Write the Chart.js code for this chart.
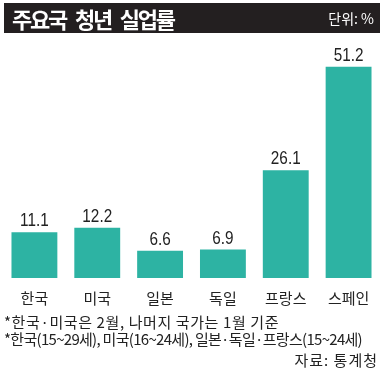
<!DOCTYPE html>
<html>
<head>
<meta charset="utf-8">
<script src="https://cdn.jsdelivr.net/npm/chart.js@4/dist/chart.umd.min.js"></script>
<style>
  body { margin: 0; background: #fff; }
  #wrap { position: relative; width: 383px; height: 377px; overflow: hidden; font-family: "Noto Sans CJK KR", sans-serif; }
  #chart { position: absolute; left: 0; top: 0; }
  .titlebar { position: absolute; left: 4px; top: 3px; width: 376px; height: 30px; background: #231f20; color: #fff; }
  .titlebar .t { position: absolute; left: 8px; top: 0; line-height: 30px; font-size: 22px; font-weight: 700; letter-spacing: -2.2px; word-spacing: 6px; }
  .titlebar .u { position: absolute; right: 6px; top: 0; line-height: 30px; font-size: 14px; }
  .note { position: absolute; left: 4px; font-size: 15px; color: #222; white-space: nowrap; line-height: 16px; }
  .src { position: absolute; right: 5px; top: 352px; font-size: 15px; color: #222; line-height: 16px; letter-spacing: 1px; }
</style>
</head>
<body>
<div id="wrap">
  <canvas id="chart" width="383" height="377"></canvas>
  <div class="titlebar"><span class="t">주요국 청년 실업률</span><span class="u">단위: %</span></div>
  <div class="note" style="top:314px; letter-spacing:0.6px">*한국·미국은 2월, 나머지 국가는 1월 기준</div>
  <div class="note" style="top:331px; letter-spacing:-0.7px">*한국(15~29세), 미국(16~24세), 일본·독일·프랑스(15~24세)</div>
  <div class="src">자료: 통계청</div>
</div>
<script>
const categories = ['한국', '미국', '일본', '독일', '프랑스', '스페인'];
const rates = [11.1, 12.2, 6.6, 6.9, 26.1, 51.2];

// values drawn above each bar, squeezed a bit to look condensed
const valueLabels = {
  id: 'valueLabels',
  afterDatasetsDraw(chart) {
    const ctx = chart.ctx;
    const meta = chart.getDatasetMeta(0);
    meta.data.forEach((bar, i) => {
      ctx.save();
      ctx.font = '18px "Liberation Sans", Arial, sans-serif';
      ctx.fillStyle = '#222';
      ctx.textAlign = 'center';
      ctx.textBaseline = 'alphabetic';
      ctx.translate(bar.x, bar.y - 6);
      ctx.scale(0.85, 1);
      ctx.fillText(rates[i].toFixed(1), 0, 0);
      ctx.restore();
    });
  }
};

new Chart(document.getElementById('chart'), {
  type: 'bar',
  data: {
    labels: categories,
    datasets: [{
      data: rates,
      backgroundColor: '#2db3a3',
      categoryPercentage: 1,
      barPercentage: 0.73,
    }],
  },
  options: {
    responsive: false,
    animation: false,
    layout: { padding: { left: 3, right: 3, top: 51, bottom: 67 } },
    plugins: { legend: { display: false }, tooltip: { enabled: false } },
    scales: {
      x: {
        grid: { display: false },
        border: { display: false },
        ticks: { color: '#222', padding: 3, font: { family: '"Noto Sans CJK KR"', size: 15 } },
      },
      y: { display: false, min: 0, max: 55 },
    },
  },
  plugins: [valueLabels],
});
</script>
</body>
</html>
